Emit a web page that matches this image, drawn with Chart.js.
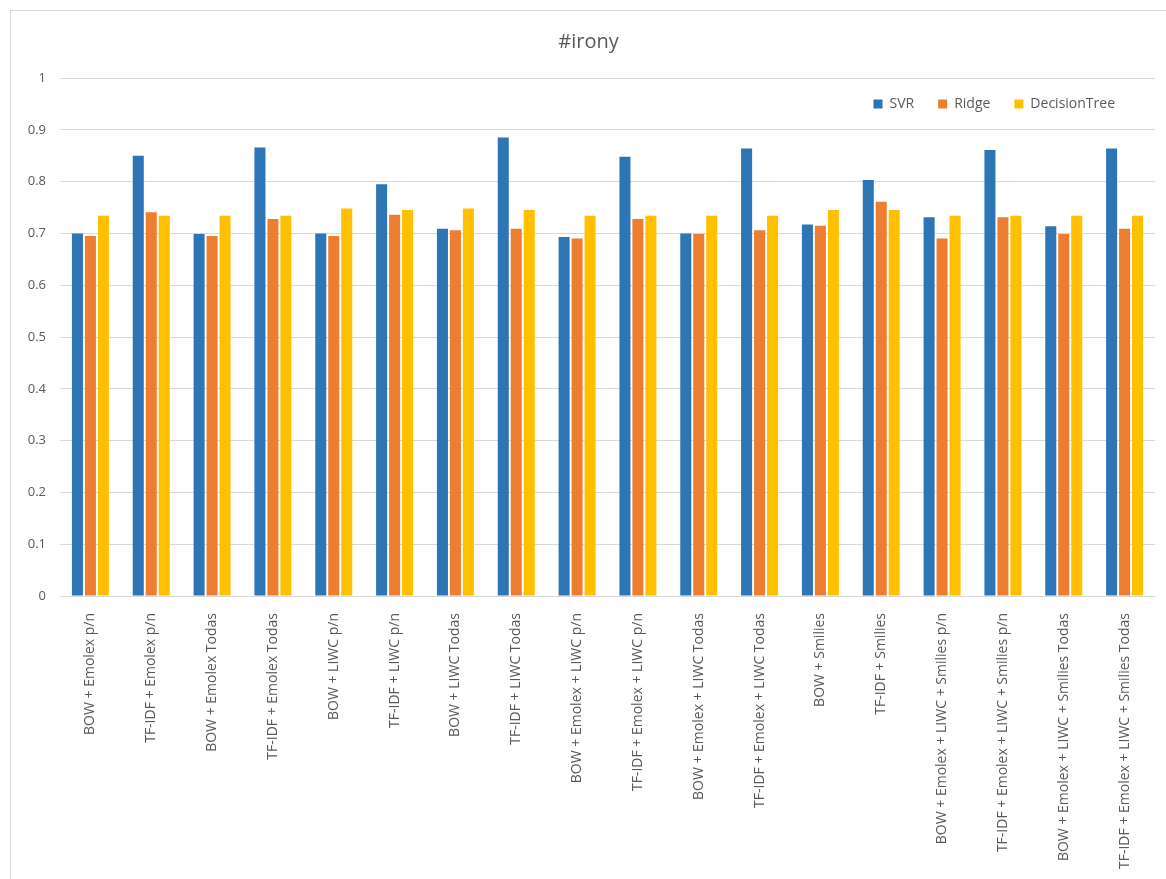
<!DOCTYPE html>
<html>
<head>
<meta charset="utf-8">
<script src="https://cdn.jsdelivr.net/npm/chart.js@4"></script>
<style>
  body { margin: 0; background: #fff; }
  #frame { position: absolute; left: 10px; top: 10px; width: 1156px; height: 869px;
           border-top: 1px solid #d9d9d9; border-left: 1px solid #d9d9d9; }
</style>
</head>
<body>
<div id="frame"><canvas id="Bar-Chart" width="1155" height="868"></canvas></div>
<script>
let labels = ['BOW + Emolex p/n', 'TF-IDF + Emolex p/n', 'BOW + Emolex Todas', 'TF-IDF + Emolex Todas',
  'BOW + LIWC p/n', 'TF-IDF + LIWC p/n', 'BOW + LIWC Todas', 'TF-IDF + LIWC Todas',
  'BOW + Emolex + LIWC p/n', 'TF-IDF + Emolex + LIWC p/n', 'BOW + Emolex + LIWC Todas', 'TF-IDF + Emolex + LIWC Todas',
  'BOW + Smilies', 'TF-IDF + Smilies',
  'BOW + Emolex + LIWC + Smilies p/n', 'TF-IDF + Emolex + LIWC + Smilies p/n',
  'BOW + Emolex + LIWC + Smilies Todas', 'TF-IDF + Emolex + LIWC + Smilies Todas'];

let svr   = [0.700, 0.850, 0.699, 0.866, 0.700, 0.795, 0.709, 0.885, 0.693, 0.848, 0.700, 0.864, 0.717, 0.803, 0.731, 0.861, 0.714, 0.864];
let ridge = [0.695, 0.741, 0.695, 0.728, 0.695, 0.736, 0.706, 0.709, 0.690, 0.728, 0.699, 0.706, 0.715, 0.761, 0.690, 0.731, 0.699, 0.709];
let tree  = [0.734, 0.734, 0.734, 0.734, 0.748, 0.745, 0.748, 0.745, 0.734, 0.734, 0.734, 0.734, 0.745, 0.745, 0.734, 0.734, 0.734, 0.734];

let seriesNames = ['SVR', 'Ridge', 'DecisionTree'];
let colors = ['#2E75B6', '#ED7D31', '#FFC000'];

let grey = '#595959';
Chart.defaults.font.family = '"Open Sans", sans-serif';
Chart.defaults.color = grey;

// legend sits inside the plot area (top right), so it takes no layout space
let legendInside = {
  id: 'legendInside',
  beforeInit(chart) {
    let fit = chart.legend.fit;
    chart.legend.fit = function () { fit.call(this); this.height = 0; };
  },
  afterLayout(chart) {
    let lg = chart.legend;
    lg.left -= 16; lg.right -= 16;
    lg.top -= 5;
    lg.bottom = lg.top + 50; // legend clips to its box
  }
};

let ctx = document.getElementById('Bar-Chart').getContext('2d');

let chart = new Chart(ctx, {
  type: 'bar',
  data: {
    labels: labels,
    datasets: [svr, ridge, tree].map((d, i) => ({
      label: seriesNames[i],
      data: d,
      backgroundColor: colors[i],
      categoryPercentage: 0.64,
      barPercentage: 0.85
    }))
  },
  plugins: [legendInside],
  options: {
    responsive: false,
    animation: false,
    layout: { padding: { left: 11, right: 11, top: 0, bottom: 0 } },
    plugins: {
      title: {
        display: true,
        text: '#irony',
        font: { size: 20, weight: 'normal' },
        color: grey,
        padding: { top: 19, bottom: 24 }
      },
      legend: {
        position: 'top',
        align: 'end',
        labels: { boxWidth: 9, boxHeight: 9, padding: 24, font: { size: 14 }, color: grey }
      },
      tooltip: { enabled: false }
    },
    scales: {
      x: {
        afterFit: (scale) => { scale.height = 283; },
        grid: { display: false },
        border: { display: true, color: '#d9d9d9' },
        ticks: { autoSkip: false, minRotation: 90, maxRotation: 90, padding: 9, font: { size: 14 }, color: grey }
      },
      y: {
        min: 0,
        max: 1,
        afterFit: (scale) => { scale.width = 38; },
        grid: { color: '#d9d9d9', drawTicks: false },
        border: { display: false },
        ticks: {
          stepSize: 0.1, padding: 14, font: { size: 13 }, color: grey,
          callback: (v) => String(Math.round(v * 10) / 10)
        }
      }
    }
  }
});
</script>
</body>
</html>
